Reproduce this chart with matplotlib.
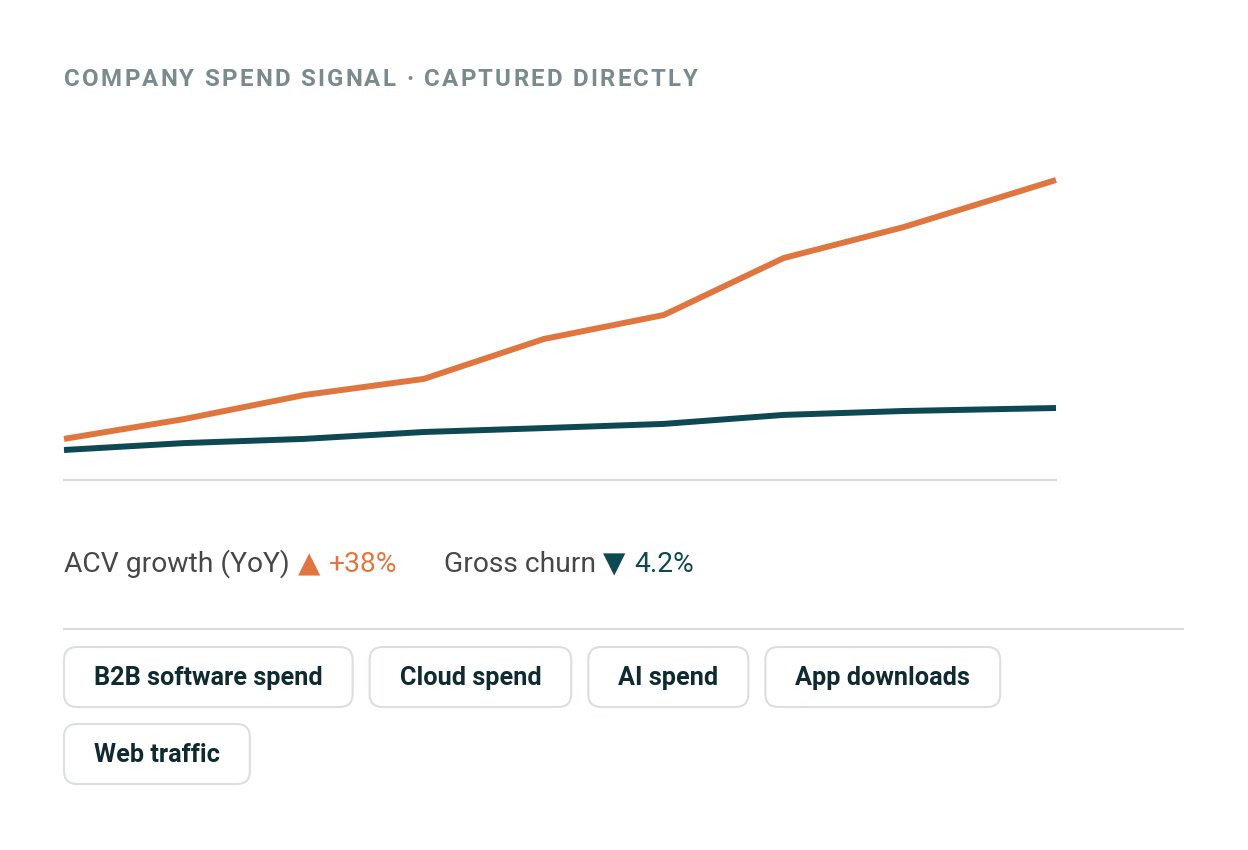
import matplotlib
matplotlib.use("Agg")
import matplotlib.pyplot as plt
from matplotlib.patches import FancyBboxPatch
from matplotlib.lines import Line2D

plt.rcParams['font.family'] = ['Roboto', 'DejaVu Sans']

# %% DATA
x_pos = [0, 1, 2, 3, 4, 5, 6, 7, 8.27]
acv_index = [13.7, 20.3, 28.3, 33.7, 47, 55, 74, 84.3, 100]
churn_index = [10, 12.3, 13.7, 16, 17.3, 18.7, 21.7, 23, 24]

title = "COMPANY SPEND SIGNAL · CAPTURED DIRECTLY"
acv_label, acv_value = "ACV growth (YoY)", "+38%"
churn_label, churn_value = "Gross churn", "4.2%"
sources = ["B2B software spend", "Cloud spend", "AI spend", "App downloads", "Web traffic"]

ORANGE = "#E0763F"
TEAL = "#0E4852"
W, H = 1248, 850

fig = plt.figure(figsize=(W / 100, H / 100), dpi=100)
fig.patch.set_facecolor("white")

# %% LINE CHART
ax = fig.add_axes([64 / W, 1 - 480 / H, 992 / W, 300 / H])
ax.plot(x_pos, acv_index, color=ORANGE, lw=4.3, clip_on=False,
        solid_joinstyle='round', solid_capstyle='butt')
ax.plot(x_pos, churn_index, color=TEAL, lw=4.3, clip_on=False,
        solid_joinstyle='round', solid_capstyle='butt')
ax.set_xlim(x_pos[0], x_pos[-1])
ax.set_ylim(0, 100)
for s in ['top', 'left', 'right']:
    ax.spines[s].set_visible(False)
ax.spines['bottom'].set_color("#DADADA")
ax.spines['bottom'].set_linewidth(1.5)
ax.set_xticks([])
ax.set_yticks([])

# %% OVERLAY IN PIXEL COORDS
ov = fig.add_axes([0, 0, 1, 1])
ov.set_xlim(0, W)
ov.set_ylim(H, 0)
ov.axis('off')
ov.patch.set_visible(False)

renderer = fig.canvas.get_renderer()


def text_width(s, **kw):
    t = ov.text(0, 0, s, **kw)
    w = t.get_window_extent(renderer).width
    t.remove()
    return w


# title with letter spacing
title_kw = dict(fontsize=17.3, fontweight='bold', color="#7A8B8E", va='baseline')
full_w = text_width(title, **title_kw)
spacing = (634 - full_w) / (len(title) - 1)
for i, ch in enumerate(title):
    xi = 64 + (text_width(title[:i], **title_kw) if i else 0) + i * spacing
    ov.text(xi, 86, ch, **title_kw)

# legend / values row
leg_kw = dict(fontsize=20.3, va='baseline')
tri_kw = dict(fontsize=21, va='baseline', family=['DejaVu Sans'])
x = 64
ov.text(x, 572, acv_label, color="#474747", **leg_kw)
x += text_width(acv_label, **leg_kw) + 8
ov.text(x, 572, "▲", color=ORANGE, **tri_kw)
x += text_width("▲", **tri_kw) + 9
ov.text(x, 572, acv_value, color=ORANGE, **leg_kw)
x = 444
ov.text(x, 572, churn_label, color="#474747", **leg_kw)
x += text_width(churn_label, **leg_kw) + 7
ov.text(x, 572, "▼", color=TEAL, **tri_kw)
x += text_width("▼", **tri_kw) + 9
ov.text(x, 572, churn_value, color=TEAL, **leg_kw)

# divider
ov.add_line(Line2D([64, 1183], [629, 629], color="#DCDCDC", lw=1.5))

# source pills
pill_kw = dict(fontsize=18.2, fontweight='bold', color="#0F2B31", ha='center', va='center')
pad, gap, pill_h, row_gap = 30, 17, 60, 17
px, py = 64, 647
for name in sources:
    pw = text_width(name, **pill_kw) + 2 * pad
    if px + pw > 1183:
        px = 64
        py += pill_h + row_gap
    ov.add_patch(FancyBboxPatch((px, py), pw, pill_h,
                                boxstyle="round,pad=0,rounding_size=13",
                                facecolor="white", edgecolor="#DCDFDF", lw=1.5))
    ov.text(px + pw / 2, py + pill_h / 2 + 1, name, **pill_kw)
    px += pw + gap

fig.savefig("out.png", dpi=100, facecolor="white")
